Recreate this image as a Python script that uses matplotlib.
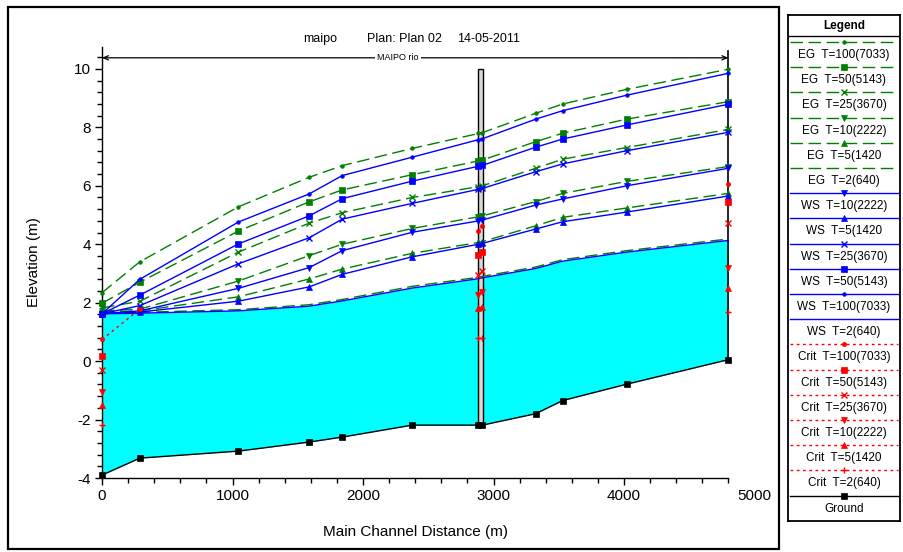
import numpy as np
import matplotlib
matplotlib.use("Agg")
import matplotlib.pyplot as plt
import matplotlib.transforms as mtransforms
from matplotlib.lines import Line2D
from matplotlib.patches import Rectangle
from matplotlib.ticker import MultipleLocator

plt.rcParams['font.family'] = ['Liberation Sans', 'DejaVu Sans']
plt.rcParams['axes.unicode_minus'] = False

nan = np.nan

# Cross-section stations along the main channel (m)
station = [0, 290, 1045, 1587, 1841, 2378, 2885, 2915, 3323, 3530, 4020, 4800]
ground = [-3.90, -3.32, -3.08, -2.77, -2.60, -2.19, -2.19, -2.19, -1.80, -1.35, -0.79, 0.05]

# Water surface elevations (m)
ws_2 = [1.62, 1.64, 1.72, 1.88, 2.06, 2.50, 2.82, 2.85, 3.17, 3.42, 3.73, 4.13]
ws_5 = [1.62, 1.68, 2.05, 2.54, 2.97, 3.57, 4.00, 4.03, 4.52, 4.77, 5.10, 5.65]
ws_10 = [1.62, 1.72, 2.49, 3.20, 3.78, 4.41, 4.80, 4.83, 5.34, 5.55, 6.00, 6.60]
ws_25 = [1.62, 1.90, 3.33, 4.22, 4.86, 5.40, 5.88, 5.91, 6.48, 6.75, 7.20, 7.83]
ws_50 = [1.62, 2.26, 4.01, 4.97, 5.56, 6.16, 6.67, 6.70, 7.32, 7.60, 8.08, 8.79]
ws_100 = [1.62, 2.80, 4.76, 5.72, 6.35, 6.98, 7.58, 7.61, 8.28, 8.57, 9.10, 9.85]

# Energy grade line elevations (m)
eg_2 = [1.65, 1.67, 1.76, 1.93, 2.11, 2.56, 2.87, 2.90, 3.22, 3.47, 3.78, 4.18]
eg_5 = [1.68, 1.72, 2.20, 2.81, 3.15, 3.69, 4.06, 4.09, 4.63, 4.92, 5.24, 5.74]
eg_10 = [1.72, 1.78, 2.74, 3.61, 4.00, 4.54, 4.94, 4.97, 5.46, 5.74, 6.15, 6.66]
eg_25 = [1.82, 2.05, 3.73, 4.72, 5.08, 5.60, 5.97, 6.00, 6.60, 6.91, 7.31, 7.93]
eg_50 = [1.98, 2.70, 4.45, 5.45, 5.86, 6.38, 6.85, 6.88, 7.51, 7.80, 8.28, 8.88]
eg_100 = [2.34, 3.40, 5.28, 6.29, 6.69, 7.28, 7.79, 7.82, 8.48, 8.80, 9.30, 9.99]

# Critical depth elevations (m), only where computed
crit_2 = [-2.17, nan, nan, nan, nan, nan, 0.78, 0.78, nan, nan, nan, 1.69]
crit_5 = [-1.51, nan, nan, nan, nan, nan, 1.82, 1.86, nan, nan, nan, 2.51]
crit_10 = [-1.05, nan, nan, nan, nan, nan, 2.26, 2.37, nan, nan, nan, 3.17]
crit_25 = [-0.31, nan, nan, nan, nan, nan, 2.95, 3.09, nan, nan, nan, 4.72]
crit_50 = [0.18, nan, nan, nan, nan, nan, 3.63, 3.74, nan, nan, nan, 5.46]
crit_100 = [0.74, 1.78, nan, nan, nan, nan, 4.45, 4.63, nan, nan, nan, 6.07]

bridge_station = [2880, 2918]
bridge_top = 10.0

x_ticks = [0, 1000, 2000, 3000, 4000]
y_ticks = [-4, -2, 0, 2, 4, 6, 8, 10]

GREEN = '#008000'
BLUE = '#0000FF'
RED = '#FF0000'
CYAN = '#00FFFF'
EG_DASH = (9, 4)
CRIT_DASH = (2, 2.5)

# (label, values, color, dashes, marker, markersize)
series = [
    ('EG  T=100(7033)', eg_100, GREEN, EG_DASH, 'o', 2.6),
    ('EG  T=50(5143)', eg_50, GREEN, EG_DASH, 's', 4.0),
    ('EG  T=25(3670)', eg_25, GREEN, EG_DASH, 'x', 4.0),
    ('EG  T=10(2222)', eg_10, GREEN, EG_DASH, 'v', 4.5),
    ('EG  T=5(1420', eg_5, GREEN, EG_DASH, '^', 4.5),
    ('EG  T=2(640)', eg_2, GREEN, EG_DASH, None, 0),
    ('WS  T=10(2222)', ws_10, BLUE, None, 'v', 4.5),
    ('WS  T=5(1420', ws_5, BLUE, None, '^', 4.5),
    ('WS  T=25(3670)', ws_25, BLUE, None, 'x', 4.0),
    ('WS  T=50(5143)', ws_50, BLUE, None, 's', 4.0),
    ('WS  T=100(7033)', ws_100, BLUE, None, 'o', 2.6),
    ('WS  T=2(640)', ws_2, BLUE, None, None, 0),
    ('Crit  T=100(7033)', crit_100, RED, CRIT_DASH, 'o', 3.0),
    ('Crit  T=50(5143)', crit_50, RED, CRIT_DASH, 's', 4.0),
    ('Crit  T=25(3670)', crit_25, RED, CRIT_DASH, 'x', 4.0),
    ('Crit  T=10(2222)', crit_10, RED, CRIT_DASH, 'v', 4.5),
    ('Crit  T=5(1420', crit_5, RED, CRIT_DASH, '^', 4.5),
    ('Crit  T=2(640)', crit_2, RED, CRIT_DASH, '+', 5.0),
    ('Ground', ground, 'black', None, 's', 4.0),
]

W, H = 904, 552


def fbox(x0, y0, x1, y1):
    """Pixel box (top-left origin) -> figure fraction rectangle."""
    return [x0 / W, 1 - y1 / H, (x1 - x0) / W, (y1 - y0) / H]


fig = plt.figure(figsize=(W / 100, H / 100), dpi=100)
fig.patch.set_facecolor('white')

# Outer frame around the profile plot
fig.patches.append(Rectangle((8 / W, 1 - 549 / H), (779 - 8) / W, (549 - 7) / H,
                             transform=fig.transFigure, fill=False,
                             edgecolor='black', lw=1.6))

ax = fig.add_axes(fbox(102, 47, 728.4, 478))
ax.set_xlim(0, 4800)
ax.set_ylim(-4.0, 10.75)
for side in ('top', 'right'):
    ax.spines[side].set_visible(False)
for side in ('left', 'bottom'):
    ax.spines[side].set_linewidth(1.0)

ax.set_xticks(x_ticks)
ax.set_yticks(y_ticks)
ax.xaxis.set_minor_locator(MultipleLocator(200))
ax.yaxis.set_minor_locator(MultipleLocator(0.4))
ax.tick_params(axis='both', which='major', direction='out', length=5, width=1,
               labelsize=11, pad=3)
ax.tick_params(axis='both', which='minor', direction='out', length=3.5, width=1)

# Last distance label sits past the end of the axis line
ax.text(5000, -4.0, '5000', ha='center', va='top', fontsize=11, clip_on=False,
        transform=ax.transData + mtransforms.ScaledTranslation(
            0, -(5 + 3) / 72, fig.dpi_scale_trans))

ax.set_xlabel('Main Channel Distance (m)', fontsize=11, labelpad=16)
ax.set_ylabel('Elevation (m)', fontsize=11, labelpad=24)

# Water area between ground and the T=2 water surface
ax.fill_between(station, ground, ws_2, color=CYAN, lw=0, zorder=1)

# Bridge deck/piers
ax.add_patch(Rectangle((bridge_station[0], ground[6]),
                       bridge_station[1] - bridge_station[0],
                       bridge_top - ground[6],
                       facecolor='#d8d8d8', edgecolor='black', lw=1.0, zorder=2))

# Reach boundary at the upstream end
ax.plot([station[-1], station[-1]], [ground[-1], 10.62], color='black', lw=1.2,
        zorder=3, clip_on=False)

for label, vals, color, dash, marker, ms in series:
    z = 6 if color == RED else (5 if color == 'black' else 4)
    ln, = ax.plot(station, vals, color=color, lw=1.0, marker=marker,
                  markersize=ms, markeredgewidth=1.0 if marker in ('x', '+') else 0.5,
                  zorder=z, clip_on=False)
    if dash is not None:
        ln.set_dashes(dash)

# Reach label with arrows
yv = 10.38
ax.annotate('', xy=(0, yv), xytext=(4800, yv),
            arrowprops=dict(arrowstyle='<->,head_length=0.35,head_width=0.15',
                            color='black', lw=0.9, shrinkA=0, shrinkB=0),
            annotation_clip=False)
ax.text(2270, yv, 'MAIPO rio', fontsize=6.5, ha='center', va='center',
        bbox=dict(facecolor='white', edgecolor='none', pad=1.5), clip_on=False,
        zorder=8)

# Title line
fig.text(320 / W, 1 - 39 / H, 'maipo', fontsize=9, ha='center', va='center')
fig.text(366.7 / W, 1 - 39 / H, 'Plan: Plan 02', fontsize=9, ha='left', va='center')
fig.text(456.7 / W, 1 - 39 / H, '14-05-2011', fontsize=9, ha='left', va='center')

# Legend panel
lax = fig.add_axes(fbox(788, 15, 900, 521))
lax.set_xlim(0, 112)
lax.set_ylim(506, 0)
lax.set_xticks([])
lax.set_yticks([])
for s in lax.spines.values():
    s.set_linewidth(1.3)
lax.text(56, 11, 'Legend', fontsize=8.5, fontweight='bold', ha='center', va='center')
lax.plot([0, 112], [21, 21], color='black', lw=1.0)

pitch = 25.2
for i, (label, vals, color, dash, marker, ms) in enumerate(series):
    ly = 40 + pitch * i
    sy = ly - 13
    ln = Line2D([2, 56, 110], [sy, sy, sy], color=color, lw=1.0, marker=marker,
                markersize=ms, markevery=[1],
                markeredgewidth=1.0 if marker in ('x', '+') else 0.5)
    if dash is not None:
        ln.set_dashes(dash)
    lax.add_line(ln)
    lax.text(56, ly, label, fontsize=8.5, ha='center', va='center')

fig.savefig('out.png', dpi=100)
